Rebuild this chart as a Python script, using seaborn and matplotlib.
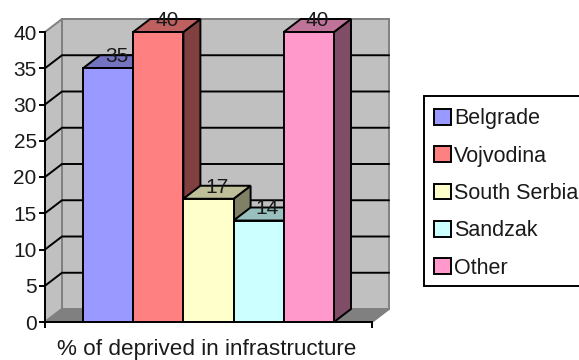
import matplotlib
matplotlib.use("Agg")
import matplotlib.pyplot as plt
from matplotlib.patches import Polygon
import pandas as pd
import seaborn as sns

regions = ["Belgrade", "Vojvodina", "South Serbia", "Sandzak", "Other"]
deprived = [35, 40, 17, 14, 40]
bar_colors = ["#9999FF", "#FF8080", "#FFFFCC", "#CCFFFF", "#FF99CC"]
top_colors = ["#7373BF", "#BF6060", "#BFBF99", "#99BFBF", "#BF7399"]
side_colors = ["#4D4D80", "#804040", "#808066", "#668080", "#804D66"]
y_ticks = [0, 5, 10, 15, 20, 25, 30, 35, 40]
x_title = "% of deprived in infrastructure"

W, H = 579, 360
LEFT, RIGHT, TOP, BOTTOM = 45, 372, 32, 322
BAR_PX = 50.2
DEPTH_X_PX, DEPTH_Y_PX = 17, 13
INK = 1.4
TEXT = "#1a1a1a"

sns.set_style("white")
plt.rcParams["font.family"] = ["Liberation Sans", "DejaVu Sans"]

fig = plt.figure(figsize=(W / 100, H / 100), dpi=100, facecolor="white")
ax = fig.add_axes([LEFT / W, (H - BOTTOM) / H, (RIGHT - LEFT) / W, (BOTTOM - TOP) / H])
ax.patch.set_alpha(0)

frame = pd.DataFrame({"region": regions, "value": deprived})
sns.barplot(data=frame, x="region", y="value", hue="region", order=regions,
            hue_order=regions, palette=bar_colors, saturation=1, dodge=False,
            width=1, edgecolor="black", linewidth=INK, ax=ax, legend=True)
handles, labels = ax.get_legend_handles_labels()
ax.get_legend().remove()

# Scale setup: the axes frame is the front plane of the pseudo-3D box.
x_margin = (RIGHT - LEFT) / BAR_PX / 2
ax.set_xlim(2 - x_margin, 2 + x_margin)
ax.set_ylim(0, 40)
x0, x1 = ax.get_xlim()
dx = DEPTH_X_PX / BAR_PX
dy = DEPTH_Y_PX * 40 / (BOTTOM - TOP)

# Box walls and floor behind the bars.
wall_kw = dict(clip_on=False, edgecolor="#808080", linewidth=INK, zorder=0.5)
ax.add_patch(Polygon([(x0 + dx, dy), (x1 + dx, dy), (x1 + dx, 40 + dy), (x0 + dx, 40 + dy)],
                     facecolor="#C0C0C0", **wall_kw))
ax.add_patch(Polygon([(x0, 0), (x0 + dx, dy), (x0 + dx, 40 + dy), (x0, 40)],
                     facecolor="#C0C0C0", **wall_kw))
ax.add_patch(Polygon([(x0, 0), (x1, 0), (x1 + dx, dy), (x0 + dx, dy)],
                     facecolor="#808080", **wall_kw))

# Gridlines run along the side wall and across the back wall.
for tick in y_ticks[1:-1]:
    ax.plot([x0, x0 + dx, x1 + dx], [tick, tick + dy, tick + dy], color="black",
            linewidth=INK, clip_on=False, zorder=1, solid_joinstyle="miter")

# Each bar gets a shaded top and side, stacked left to right.
bars = [patch for container in ax.containers for patch in container]
for i, (bar, value) in enumerate(zip(bars, deprived)):
    left = bar.get_x()
    right = left + bar.get_width()
    z = 3 + i
    edge = dict(edgecolor="black", linewidth=INK, clip_on=False, zorder=z,
                joinstyle="miter")
    ax.add_patch(Polygon([(right, 0), (right + dx, dy), (right + dx, value + dy), (right, value)],
                         facecolor=side_colors[i], **edge))
    ax.add_patch(Polygon([(left, value), (right, value), (right + dx, value + dy), (left + dx, value + dy)],
                         facecolor=top_colors[i], **edge))
    bar.set_zorder(z + 0.5)
    bar.set_clip_on(False)
    ax.annotate(str(value), xy=((left + right + dx) / 2, value + dy), xytext=(0, -1),
                textcoords="offset points", ha="center", va="center",
                fontsize=15, zorder=20, color=TEXT, annotation_clip=False)

for name in ("top", "right"):
    ax.spines[name].set_visible(False)
for name in ("left", "bottom"):
    ax.spines[name].set_color("black")
    ax.spines[name].set_linewidth(INK)
    ax.spines[name].set_zorder(2.5)

ax.set_yticks(y_ticks)
ax.set_xticks([x0, x1])
ax.set_xticklabels(["", ""])
ax.tick_params(axis="both", direction="out", length=4.5, width=INK, color="black",
               bottom=True, left=True)
ax.tick_params(axis="x", pad=0)
ax.tick_params(axis="y", labelsize=15, pad=1.5, labelcolor=TEXT)
ax.set_xlabel(x_title, fontsize=16.2, color=TEXT, labelpad=0)
ax.xaxis.set_label_coords((207 - LEFT) / (RIGHT - LEFT), (BOTTOM - 349) / (BOTTOM - TOP))
ax.xaxis.label.set_verticalalignment("center")
ax.set_ylabel("")

legend = fig.legend(handles, labels, loc="upper left",
                    bbox_to_anchor=(424 / W, 1 - 96 / H), bbox_transform=fig.transFigure,
                    borderaxespad=0, fancybox=False, framealpha=1, edgecolor="black",
                    fontsize=15.5, labelcolor=TEXT, handlelength=0.79, handleheight=0.75,
                    handletextpad=0.15, labelspacing=0.76, borderpad=0.45)
legend.get_frame().set_linewidth(INK)
# Nudge the rows down inside the frame so they sit centred in it.
for label in legend.get_texts():
    label.set_y(-2.5)
for swatch in legend.legend_handles:
    swatch.set_y(swatch.get_y() - 1.8)

fig.savefig("out.png", dpi=100)
